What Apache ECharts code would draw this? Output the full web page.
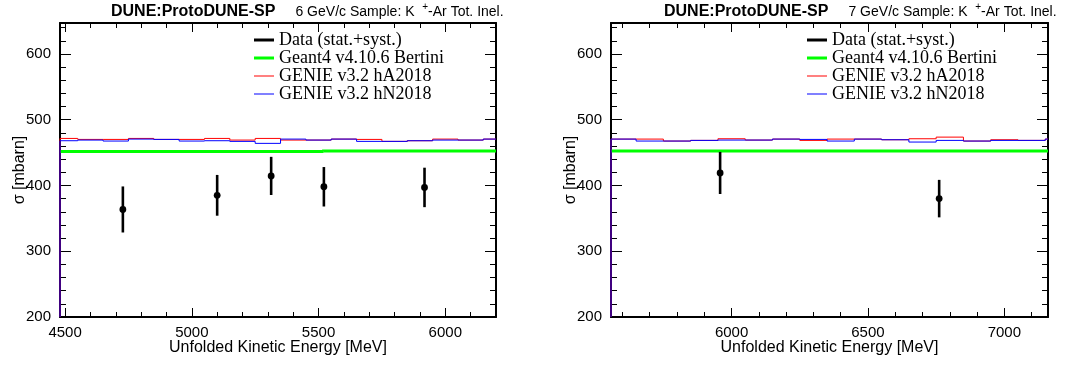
<!DOCTYPE html>
<html><head><meta charset="utf-8">
<script src="https://cdn.jsdelivr.net/npm/echarts@6/dist/echarts.min.js"></script>
<style>html,body{margin:0;padding:0;background:#fff}#c{width:1074px;height:365px}</style>
</head><body><div id="c"></div>
<script>
// ---------------- data ----------------
const names = ['Data (stat.+syst.)', 'Geant4 v4.10.6 Bertini', 'GENIE v3.2 hA2018', 'GENIE v3.2 hN2018'];
const yTicks = [200, 300, 400, 500, 600];
const xTicksL = [4500, 5000, 5500, 6000];
const xTicksR = [6000, 6500, 7000];

// left panel: 6 GeV/c
const dataXL = [4728, 5100, 5313, 5521, 5918];
const dataYL = [363.5, 385, 414.5, 398, 397];
const dataEL = [35, 31, 29, 30, 30];
const edgesL = [4450,4550,4650,4750,4850,4950,5050,5150,5250,5350,5450,5550,5650,5750,5850,5950,6050,6150,6250];
const redL   = [471.5,470,470,471.5,470,470,471.5,469,471.5,469,469,470.5,470,467,468,470.5,469,470.5];
const blueL  = [468,469,467.5,470.5,470,467.5,468,467,464,470.5,469,470.5,467,467,468,469,469,470.5];
const greenEdgesL = [4450, 5520, 6250];
const greenL = [451.5, 452.5];

// right panel: 7 GeV/c
const dataXR = [5958, 6761];
const dataYR = [419, 380];
const dataER = [32, 28.5];
const edgesR = [5550,5650,5750,5850,5950,6050,6150,6250,6350,6450,6550,6650,6750,6850,6950,7050,7150,7250];
const redR   = [470.5,470.5,467.5,468.5,471,469,470.5,468.5,470.5,470.5,469.5,471,473.5,467.5,469.5,468.5,470.5];
const blueR  = [470.5,467.5,467.5,468.5,469,469,470.5,470,467.5,470.5,469.5,466,468.5,467.5,468.5,468.5,470.5];
const greenEdgesR = [5550, 7250];
const greenR = [452.5];

// ---------------- helpers ----------------
const FS = 'Liberation Sans, Arial, Helvetica, sans-serif';
const FR = 'Liberation Serif, Times New Roman, serif';
const YMIN = 200, YMAX = 647;
function range(a, b, s) { const r = []; for (let v = a; v <= b + 1e-9; v += s) r.push(v); return r; }
// bins as [lo, hi, value, previous value] ; drop => first bin rises from zero
function bins(edges, vals, drop) {
  return vals.map((v, i) => [edges[i], edges[i + 1], v, i === 0 ? (drop ? 0 : v) : vals[i - 1]]);
}
function histRender(xmin, xmax, color, width) {
  const cx = x => Math.min(xmax, Math.max(xmin, x));
  const cy = y => Math.min(YMAX, Math.max(YMIN, y));
  return function (params, api) {
    const lo = api.value(0), hi = api.value(1), v = api.value(2), pv = api.value(3);
    if (hi <= xmin || lo >= xmax) return null;
    const p0 = api.coord([cx(lo), cy(pv)]), p1 = api.coord([cx(lo), cy(v)]), p2 = api.coord([cx(hi), cy(v)]);
    return { type: 'polyline', shape: { points: [p0, p1, p2] },
      style: { stroke: color, lineWidth: width, fill: null, lineJoin: 'miter' } };
  };
}

const panels = [
  { left: 60, right: 578, xmin: 4480, xmax: 6200, xTicks: xTicksL, nameGapY: 31,
    dx: dataXL, dy: dataYL, de: dataEL, edges: edgesL, red: redL, blue: blueL, gE: greenEdgesL, g: greenL,
    titleLeft: 111, title: '6 GeV/c Sample: K', legLeft: 254 },
  { left: 611, right: 26, xmin: 5558, xmax: 7160, xTicks: xTicksR, nameGapY: 31,
    dx: dataXR, dy: dataYR, de: dataER, edges: edgesR, red: redR, blue: blueR, gE: greenEdgesR, g: greenR,
    titleLeft: 664, title: '7 GeV/c Sample: K', legLeft: 807 }
];
const grids = [], xAxes = [], yAxes = [], series = [], legends = [], titles = [];
const lineC = '#000';
const plain = v => String(v);

panels.forEach((p, pi) => {
  const gMaj = pi * 2, gMin = pi * 2 + 1;
  const gridBox = { left: p.left, right: p.right, top: 23, bottom: 48, outerBoundsMode: 'none', containLabel: false };
  grids.push(Object.assign({}, gridBox), Object.assign({}, gridBox));
  const xMinors = range(Math.ceil(p.xmin / 100) * 100, p.xmax, 100);
  const yMinors = range(YMIN, YMAX, 20);
  const baseX = { type: 'value', min: p.xmin, max: p.xmax, splitLine: { show: false } };
  const baseY = { type: 'value', min: YMIN, max: YMAX, splitLine: { show: false } };
  // x axes
  xAxes.push(Object.assign({}, baseX, {
    gridIndex: gMaj, position: 'bottom',
    axisLine: { show: true, onZero: false, lineStyle: { color: lineC, width: 2 } },
    axisTick: { show: true, inside: true, length: 9, customValues: p.xTicks, lineStyle: { color: lineC, width: 1 } },
    axisLabel: { show: true, customValues: p.xTicks, formatter: plain, margin: 8, fontSize: 15, fontFamily: FS, color: '#000' },
    name: 'Unfolded Kinetic Energy [MeV]', nameLocation: 'middle', nameGap: 22, nameMoveOverlap: false,
    nameTextStyle: { fontSize: 16, fontFamily: FS, color: '#000', lineHeight: 18 }
  }));
  xAxes.push(Object.assign({}, baseX, {
    gridIndex: gMaj, position: 'top',
    axisLine: { show: true, onZero: false, lineStyle: { color: lineC, width: 2 } },
    axisTick: { show: true, inside: true, length: 9, customValues: p.xTicks, lineStyle: { color: lineC, width: 1 } },
    axisLabel: { show: false }
  }));
  xAxes.push(Object.assign({}, baseX, {
    gridIndex: gMin, position: 'bottom',
    axisLine: { show: false, onZero: false },
    axisTick: { show: true, inside: true, length: 5, customValues: xMinors, lineStyle: { color: lineC, width: 1 } },
    axisLabel: { show: false }
  }));
  xAxes.push(Object.assign({}, baseX, {
    gridIndex: gMin, position: 'top',
    axisLine: { show: false, onZero: false },
    axisTick: { show: true, inside: true, length: 5, customValues: xMinors, lineStyle: { color: lineC, width: 1 } },
    axisLabel: { show: false }
  }));
  // y axes
  yAxes.push(Object.assign({}, baseY, {
    gridIndex: gMaj, position: 'left',
    axisLine: { show: true, onZero: false, lineStyle: { color: lineC, width: 2 } },
    axisTick: { show: true, inside: true, length: 11, customValues: yTicks, lineStyle: { color: lineC, width: 1 } },
    axisLabel: { show: true, customValues: yTicks, formatter: plain, margin: 9, fontSize: 15, fontFamily: FS, color: '#000' },
    name: 'σ [mbarn]', nameLocation: 'middle', nameGap: p.nameGapY, nameMoveOverlap: false,
    nameTextStyle: { fontSize: 16, fontFamily: FS, color: '#000', lineHeight: 18 }
  }));
  yAxes.push(Object.assign({}, baseY, {
    gridIndex: gMaj, position: 'right',
    axisLine: { show: true, onZero: false, lineStyle: { color: lineC, width: 2 } },
    axisTick: { show: true, inside: true, length: 11, customValues: yTicks, lineStyle: { color: lineC, width: 1 } },
    axisLabel: { show: false }
  }));
  yAxes.push(Object.assign({}, baseY, {
    gridIndex: gMin, position: 'left',
    axisLine: { show: false, onZero: false },
    axisTick: { show: true, inside: true, length: 6, customValues: yMinors, lineStyle: { color: lineC, width: 1 } },
    axisLabel: { show: false }
  }));
  yAxes.push(Object.assign({}, baseY, {
    gridIndex: gMin, position: 'right',
    axisLine: { show: false, onZero: false },
    axisTick: { show: true, inside: true, length: 6, customValues: yMinors, lineStyle: { color: lineC, width: 1 } },
    axisLabel: { show: false }
  }));

  const xi = pi * 4, yi = pi * 4;
  const histSeries = (name, edges, vals, drop, color, width, z) => ({
    type: 'custom', name: name, xAxisIndex: xi, yAxisIndex: yi,
    data: bins(edges, vals, drop), encode: { x: [0, 1], y: 2 },
    itemStyle: { color: color }, z: z,
    renderItem: histRender(p.xmin, p.xmax, color, width)
  });
  series.push(histSeries(names[1], p.gE, p.g, false, '#00ff00', 3, 2));
  series.push(histSeries(names[2], p.edges, p.red, true, '#ff0000', 1, 3));
  series.push(histSeries(names[3], p.edges, p.blue, true, '#0000ff', 1, 4));
  series.push({
    type: 'custom', name: names[0], xAxisIndex: xi, yAxisIndex: yi,
    data: p.dx.map((x, i) => [x, p.dy[i], p.de[i]]),
    encode: { x: 0, y: 1 }, itemStyle: { color: '#000' }, z: 5,
    renderItem: function (params, api) {
      const x = api.value(0), y = api.value(1), e = api.value(2);
      const a = api.coord([x, y - e]), b = api.coord([x, y + e]), c = api.coord([x, y]);
      return { type: 'group', children: [
        { type: 'line', shape: { x1: a[0], y1: a[1], x2: b[0], y2: b[1] }, style: { stroke: '#000', lineWidth: 2.6 } },
        { type: 'circle', shape: { cx: c[0], cy: c[1], r: 3.4 }, style: { fill: '#000' } }
      ] };
    }
  });

  const legColors = ['#000', '#00ff00', '#ff0000', '#0000ff'];
  const legH = [3, 3, 1, 1];
  names.forEach((n, k) => {
    legends.push({
      show: true, data: [{ name: n, icon: 'rect', itemStyle: { color: legColors[k], borderWidth: 0 } }],
      left: p.legLeft, top: 40 + 18 * k - 9, padding: 0, itemWidth: 20, itemHeight: legH[k],
      selectedMode: false, itemGap: 0,
      textStyle: { fontFamily: FR, fontSize: 18, color: '#000', lineHeight: 18 }
    });
  });

  titles.push({
    left: p.titleLeft, top: 2, padding: 0,
    text: '{a|DUNE:ProtoDUNE-SP}{g| }{b|' + p.title + '  }{s|+}{b|-Ar Tot. Inel.}',
    textStyle: {
      lineHeight: 20, fontWeight: 'normal',
      rich: {
        a: { fontFamily: FS, fontWeight: 'bold', fontSize: 16, color: '#000', lineHeight: 20 },
        g: { width: 20, fontSize: 14, fontWeight: 'normal' },
        b: { fontFamily: FS, fontWeight: 'normal', fontSize: 14, color: '#000', lineHeight: 20 },
        s: { fontFamily: FS, fontWeight: 'normal', fontSize: 10, color: '#000', verticalAlign: 'top', lineHeight: 20 }
      }
    }
  });
});

const chart = echarts.init(document.getElementById('c'), null, { renderer: 'canvas' });
chart.setOption({
  animation: false,
  backgroundColor: '#fff',
  title: titles,
  legend: legends,
  grid: grids,
  xAxis: xAxes,
  yAxis: yAxes,
  series: series
});
</script></body></html>
